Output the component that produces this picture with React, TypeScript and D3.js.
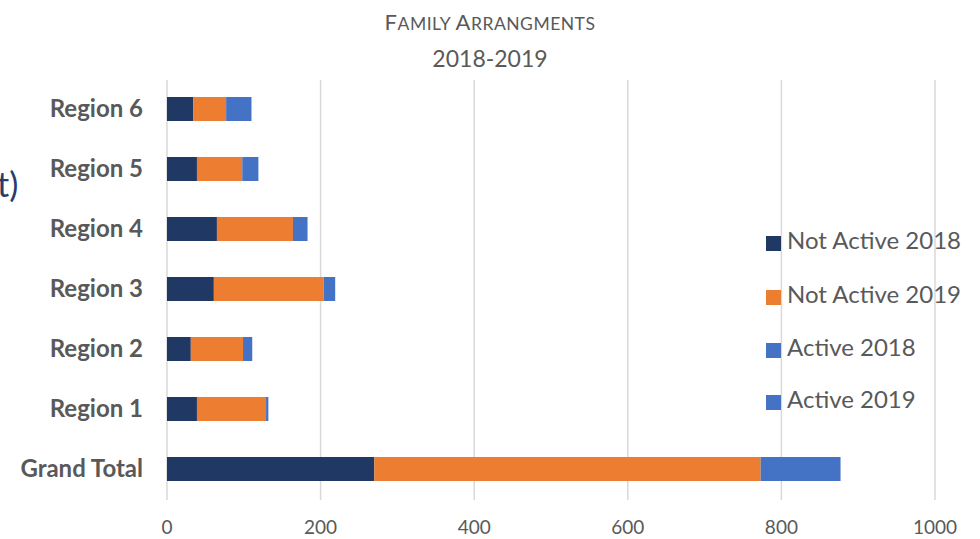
import { useEffect, useRef } from 'react';
import * as d3 from 'd3';

const categories = ['Region 6', 'Region 5', 'Region 4', 'Region 3', 'Region 2', 'Region 1', 'Grand Total'];
const notActive2018 = [34, 39, 65, 61, 31, 39, 270];
const notActive2019 = [43, 59, 99, 143, 68, 90, 503];
const active2018 = [33, 21, 19, 15, 12, 3, 104];
const active2019 = [0, 0, 0, 0, 0, 0, 0];
const seriesNames = ['Not Active 2018', 'Not Active 2019', 'Active 2018', 'Active 2019'];
const xTicks = [0, 200, 400, 600, 800, 1000];

const colors = ['#203864', '#ED7D31', '#4472C4', '#4472C4'];

export default function App() {
  const svgRef = useRef<SVGSVGElement>(null);
  const width = 980;
  const height = 539;

  useEffect(() => {
    if (!svgRef.current) return;
    const svg = d3.select(svgRef.current);
    svg.selectAll('*').remove();

    const font = 'Lato, "Open Sans", sans-serif';
    const x = d3.scaleLinear().domain([0, 1000]).range([167, 935]);
    const y = d3.scaleBand().domain(categories).range([79, 499]).paddingInner(0.6).paddingOuter(0.3);

    // gridlines
    svg.append('g')
      .selectAll('line')
      .data(xTicks)
      .enter()
      .append('line')
      .attr('x1', d => x(d))
      .attr('x2', d => x(d))
      .attr('y1', 80)
      .attr('y2', 500)
      .attr('stroke', '#d9d9d9')
      .attr('stroke-width', 1.5);

    const table = categories.map((c, i) => ({
      cat: c,
      'Not Active 2018': notActive2018[i],
      'Not Active 2019': notActive2019[i],
      'Active 2018': active2018[i],
      'Active 2019': active2019[i],
    }));
    const stacked = d3.stack<any>().keys(seriesNames)(table);

    svg.append('g')
      .selectAll('g')
      .data(stacked)
      .enter()
      .append('g')
      .attr('fill', (_, i) => colors[i])
      .selectAll('rect')
      .data(d => d)
      .enter()
      .append('rect')
      .attr('x', d => x(d[0]))
      .attr('y', d => y(d.data.cat) ?? 0)
      .attr('width', d => x(d[1]) - x(d[0]))
      .attr('height', y.bandwidth());

    // category labels
    svg.append('g')
      .selectAll('text')
      .data(categories)
      .enter()
      .append('text')
      .attr('x', 143)
      .attr('y', d => (y(d) ?? 0) + y.bandwidth() / 2)
      .attr('dy', '0.35em')
      .attr('text-anchor', 'end')
      .attr('font-family', font)
      .attr('font-weight', 'bold')
      .attr('font-size', 24)
      .attr('fill', '#595959')
      .text(d => d);

    // x tick labels
    svg.append('g')
      .selectAll('text')
      .data(xTicks)
      .enter()
      .append('text')
      .attr('x', d => x(d))
      .attr('y', 527)
      .attr('dy', '0.35em')
      .attr('text-anchor', 'middle')
      .attr('font-family', font)
      .attr('font-size', 19)
      .attr('fill', '#595959')
      .text(d => String(d));

    // title
    const title = svg.append('text')
      .attr('x', 490)
      .attr('y', 30)
      .attr('text-anchor', 'middle')
      .attr('font-family', font)
      .attr('letter-spacing', 0.5)
      .attr('fill', '#595959');
    title.append('tspan').attr('font-size', 22).text('F');
    title.append('tspan').attr('font-size', 17.5).text('AMILY ');
    title.append('tspan').attr('font-size', 22).text('A');
    title.append('tspan').attr('font-size', 17.5).text('RRANGMENTS');
    svg.append('text')
      .attr('x', 490)
      .attr('y', 67)
      .attr('text-anchor', 'middle')
      .attr('font-family', font)
      .attr('font-size', 23)
      .attr('fill', '#595959')
      .text('2018-2019');

    // legend
    const legendY = [241, 295, 348, 400];
    const lg = svg.append('g')
      .selectAll('g')
      .data(seriesNames)
      .enter()
      .append('g')
      .attr('transform', (_, i) => `translate(766,${legendY[i]})`);
    lg.append('rect')
      .attr('x', 0)
      .attr('y', -5)
      .attr('width', 15)
      .attr('height', 15)
      .attr('fill', (_, i) => colors[i]);
    lg.append('text')
      .attr('x', 21)
      .attr('y', 0)
      .attr('dy', '0.35em')
      .attr('font-family', font)
      .attr('font-size', 24)
      .attr('fill', '#595959')
      .text(d => d);

    // cropped slide fragment at left edge
    svg.append('text')
      .attr('x', -3)
      .attr('y', 197)
      .attr('font-family', font)
      .attr('font-size', 34)
      .attr('fill', '#2a3a6a')
      .text('t)');
  }, []);

  return (
    <svg
      ref={svgRef}
      width={width}
      height={height}
      style={{ position: 'absolute', left: 0, top: 0, background: '#ffffff' }}
    ></svg>
  );
}
